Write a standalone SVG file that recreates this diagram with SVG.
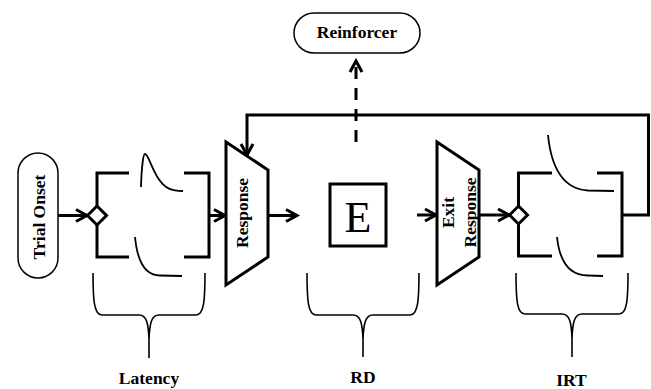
<svg xmlns="http://www.w3.org/2000/svg" width="651" height="389" viewBox="0 0 651 389">
<defs>
<marker id="arr" markerUnits="userSpaceOnUse" viewBox="-14 -9 16 18" markerWidth="16" markerHeight="18" refX="0" refY="0" orient="auto" overflow="visible">
<path d="M-11,-6 L0,0 L-11,6" fill="none" stroke="#000" stroke-width="3" stroke-linejoin="miter"/>
</marker>
</defs>
<style>
.conn{fill:none;stroke:#000;stroke-width:3}
.pill{fill:#fff;stroke:#000;stroke-width:1.5}
.shape{fill:#fff;stroke:#000;stroke-width:3;stroke-linejoin:miter}
.bracket{fill:none;stroke:#000;stroke-width:3}
.curve{fill:none;stroke:#000;stroke-width:1.8}
.brace{fill:none;stroke:#000;stroke-width:1.6}
.lbl{font-family:"Liberation Serif","Times New Roman",serif;font-weight:bold;font-size:17.5px;fill:#000}
.big{font-family:"Liberation Serif","Times New Roman",serif;font-size:44px;fill:#000}
</style>
<rect width="651" height="389" fill="#fff"/>

<g id="connectors">
<line class="conn" x1="58" y1="215.5" x2="87" y2="215.5" marker-end="url(#arr)"/>
<line class="conn" x1="209" y1="215.5" x2="225" y2="215.5" marker-end="url(#arr)"/>
<line class="conn" x1="268" y1="215.5" x2="297" y2="215.5" marker-end="url(#arr)"/>
<line class="conn" x1="417" y1="215" x2="436" y2="215" marker-end="url(#arr)"/>
<line class="conn" x1="479" y1="215" x2="509" y2="215" marker-end="url(#arr)"/>
<polyline class="conn" points="622,215 648.5,215 648.5,115 247,115 247,155" marker-end="url(#arr)"/>
<line class="conn" x1="356" y1="142" x2="356" y2="61" stroke-dasharray="12 9" marker-end="url(#arr)"/>
</g>

<g id="trial-onset">
<rect class="pill" x="18" y="153" width="40" height="125" rx="20" ry="20"/>
<text class="lbl" transform="translate(44.5,217) rotate(-90)" text-anchor="middle">Trial Onset</text>
</g>

<g id="reinforcer">
<rect class="pill" x="294" y="13" width="126" height="40" rx="20" ry="20"/>
<text class="lbl" x="357" y="37.5" text-anchor="middle">Reinforcer</text>
</g>

<g id="latency-box">
<polyline class="bracket" points="129,173 97,173 97,257 129,257"/>
<polyline class="bracket" points="184,173 209,173 209,257 184,257"/>
<polygon class="shape" points="97,206 106.5,215.5 97,225 87.5,215.5"/>
<path class="curve" d="M141,187 C141.5,170 143,154 145,154 C148,154 151,167 158,178 C165,189 172,191 183,191"/>
<path class="curve" d="M135,237 C137,258 143,275.5 160,275.5 L182,276"/>
</g>

<g id="response">
<polygon class="shape" points="226,142 268,170 268,257 226,285"/>
<text class="lbl" transform="translate(247.5,213) rotate(-90)" text-anchor="middle">Response</text>
</g>

<g id="e-box">
<rect class="shape" x="330" y="184" width="56" height="62"/>
<text class="big" x="358" y="232" text-anchor="middle">E</text>
</g>

<g id="exit-response">
<polygon class="shape" points="437,142 479,170 479,257 437,285"/>
<text class="lbl" transform="translate(453.5,212.5) rotate(-90)" text-anchor="middle">Exit</text>
<text class="lbl" transform="translate(475.5,212.5) rotate(-90)" text-anchor="middle">Response</text>
</g>

<g id="irt-box">
<polyline class="bracket" points="552,173 518.5,173 518.5,256 552,256"/>
<polyline class="bracket" points="597,173 622,173 622,256 597,256"/>
<polygon class="shape" points="518.5,206 527.5,215 518.5,224 509.5,215"/>
<path class="curve" d="M548,135 C551,165 562,189 588,190.5 L614,191"/>
<path class="curve" d="M557,237 C559.5,261 569,275.5 588,275.5 L603,276"/>
</g>

<g id="latency">
<path class="brace" d="M93,273 C93,300 94,315 102,315 L139,315 C146,315 148.5,322 149,340 L149,358 M149,340 C149.5,322 152,315 159,315 L196,315 C204,315 205,300 205,273"/>
<text class="lbl" x="149" y="384" text-anchor="middle">Latency</text>
</g>

<g id="rd">
<path class="brace" d="M307,273 C307,300 308,315 316,315 L353,315 C360,315 362.5,322 363,340 L363,357 M363,340 C363.5,322 366,315 373,315 L410,315 C418,315 419,300 419,273"/>
<text class="lbl" x="363" y="383" text-anchor="middle">RD</text>
</g>

<g id="irt">
<path class="brace" d="M516,273 C516,300 517,314 525,314 L562,314 C569,314 571.5,321 572,339 L572,357 M572,339 C572.5,321 575,314 582,314 L619,314 C627,314 628,300 628,273"/>
<text class="lbl" x="571.5" y="386" text-anchor="middle">IRT</text>
</g>
</svg>
